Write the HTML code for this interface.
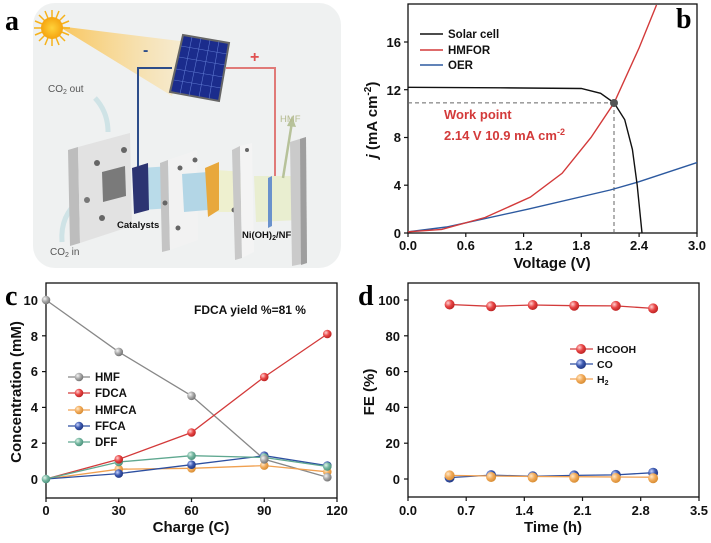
<!DOCTYPE html>
<html><head><meta charset="utf-8"><style>
html,body{margin:0;padding:0;background:#fff}
svg{display:block;font-family:"Liberation Sans",Arial,sans-serif}
.t{font-size:13px;font-weight:bold;fill:#111}
.ax{font-size:15px;font-weight:bold;fill:#111}
.lg{font-size:11.5px;font-weight:bold;fill:#111}
.L{font-family:"Liberation Serif",serif;font-size:28px;font-weight:bold;fill:#000}
</style></head><body>
<svg width="711" height="543" viewBox="0 0 711 543" xmlns="http://www.w3.org/2000/svg">
<defs>
<radialGradient id="gr" cx="35%" cy="35%" r="70%"><stop offset="0" stop-color="#ffd0d0"/><stop offset=".5" stop-color="#e84545"/><stop offset="1" stop-color="#b82020"/></radialGradient>
<radialGradient id="gg" cx="35%" cy="35%" r="70%"><stop offset="0" stop-color="#f4f4f4"/><stop offset=".5" stop-color="#a8a8a8"/><stop offset="1" stop-color="#707070"/></radialGradient>
<radialGradient id="go" cx="35%" cy="35%" r="70%"><stop offset="0" stop-color="#ffe8c8"/><stop offset=".5" stop-color="#f2ab5a"/><stop offset="1" stop-color="#d58a30"/></radialGradient>
<radialGradient id="gb" cx="35%" cy="35%" r="70%"><stop offset="0" stop-color="#c8d4ff"/><stop offset=".5" stop-color="#3d5ab0"/><stop offset="1" stop-color="#1e3580"/></radialGradient>
<radialGradient id="gt" cx="35%" cy="35%" r="70%"><stop offset="0" stop-color="#e0f4ea"/><stop offset=".5" stop-color="#74b6a0"/><stop offset="1" stop-color="#4a907a"/></radialGradient>
<radialGradient id="sun" cx="50%" cy="50%" r="50%"><stop offset="0" stop-color="#ffd23a"/><stop offset="1" stop-color="#f5a410"/></radialGradient>
<linearGradient id="beam" x1="0" y1="0" x2="1" y2="0"><stop offset="0" stop-color="#f9c04a" stop-opacity=".9"/><stop offset="1" stop-color="#fbe6b5" stop-opacity=".5"/></linearGradient>
</defs>

<!-- Panel a -->
<rect x="33" y="3" width="308" height="265" rx="22" fill="#eff1f1"/>
<text class="L" x="5" y="30">a</text>
<polygon points="58,26 188,42 172,96" fill="url(#beam)"/>
<g stroke="#f6b21a" stroke-width="1.5">
<line x1="52" y1="10" x2="52" y2="46"/><line x1="34" y1="28" x2="70" y2="28"/>
<line x1="39" y1="15" x2="65" y2="41"/><line x1="39" y1="41" x2="65" y2="15"/>
<line x1="45" y1="11" x2="59" y2="45"/><line x1="35" y1="21" x2="69" y2="35"/>
<line x1="59" y1="11" x2="45" y2="45"/><line x1="35" y1="35" x2="69" y2="21"/>
</g>
<circle cx="52" cy="28" r="11" fill="url(#sun)"/>
<polyline points="172,68 138,68 138,168" fill="none" stroke="#2d4d8a" stroke-width="2"/>
<polyline points="226,68 275,68 275,178" fill="none" stroke="#e07a78" stroke-width="2"/>
<text x="143" y="55" font-size="16" font-weight="bold" fill="#2d4d8a">-</text>
<text x="250" y="62" font-size="16" font-weight="bold" fill="#e05050">+</text>
<polygon points="183,35 229,43 219,101 170,92" fill="#1b2c8c" stroke="#666" stroke-width="2"/>
<g stroke="#5e78d0" stroke-width=".6">
<line x1="192" y1="37" x2="180" y2="94"/><line x1="201" y1="38" x2="189" y2="96"/><line x1="210" y1="40" x2="199" y2="97"/><line x1="219" y1="41" x2="209" y2="99"/>
<line x1="181" y1="46" x2="227" y2="54"/><line x1="179" y1="57" x2="225" y2="65"/><line x1="176" y1="69" x2="223" y2="77"/><line x1="174" y1="80" x2="221" y2="88"/>
</g>
<path d="M62,242 Q60,215 80,200" fill="none" stroke="#cfe3e6" stroke-width="5"/>
<path d="M108,132 Q108,112 95,98" fill="none" stroke="#cfe3e6" stroke-width="5"/>
<text x="48" y="92" font-size="10" fill="#555">CO<tspan font-size="7" dy="2">2</tspan><tspan dy="-2"> out</tspan></text>
<text x="50" y="255" font-size="10" fill="#555">CO<tspan font-size="7" dy="2">2</tspan><tspan dy="-2"> in</tspan></text>
<polygon points="68,150 78,147 80,243 70,246" fill="#bdbdbd"/>
<polygon points="78,147 130,133 132,226 80,243" fill="#e2e2e2"/>
<polygon points="102,172 125,166 126,196 103,202" fill="#7a7a7a"/>
<circle cx="97" cy="163" r="3" fill="#666"/><circle cx="124" cy="150" r="3" fill="#666"/><circle cx="102" cy="218" r="3" fill="#666"/><circle cx="87" cy="200" r="3" fill="#777"/>
<polygon points="140,168 172,166 172,208 142,210" fill="#b9dbe9"/>
<polygon points="132,168 148,163 149,210 134,214" fill="#2c3472"/>
<polygon points="160,163 168,160 170,250 162,252" fill="#c4c4c4"/>
<polygon points="168,160 197,150 198,240 170,250" fill="#f2f2f2"/>
<circle cx="180" cy="168" r="2.5" fill="#666"/><circle cx="195" cy="160" r="2.5" fill="#666"/><circle cx="178" cy="228" r="2.5" fill="#666"/><circle cx="165" cy="203" r="2.5" fill="#666"/>
<polygon points="182,174 208,172 208,210 184,212" fill="#b3d6e6"/>
<polygon points="216,170 246,172 246,212 216,212" fill="#eef0cf"/>
<polygon points="205,168 219,162 219,210 208,217" fill="#e8a83c"/>
<circle cx="234" cy="210" r="2.5" fill="#666"/>
<polygon points="232,150 240,146 242,258 235,260" fill="#c8c8c8"/>
<polygon points="240,146 252,143 254,252 242,258" fill="#f4f4f4"/>
<circle cx="247" cy="150" r="2" fill="#666"/>
<polygon points="254,176 298,176 300,220 256,222" fill="#e9eed0"/>
<polygon points="268,178 272,176 272,226 268,228" fill="#6a92cc"/>
<line x1="283" y1="178" x2="292" y2="122" stroke="#b7c29a" stroke-width="2.5"/>
<polygon points="292,116 287,126 296,127" fill="#b7c29a"/>
<text x="280" y="122" font-size="9.5" fill="#b4ba8f">HMF</text>
<polygon points="290,142 306,137 307,263 292,266" fill="#cacaca"/>
<polygon points="300,139 306,137 307,263 301,265" fill="#9e9e9e"/>
<text x="117" y="228" font-size="9.5" font-weight="bold" fill="#111">Catalysts</text>
<text x="242" y="238" font-size="9.5" font-weight="bold" fill="#111">Ni(OH)<tspan font-size="7" dy="2">2</tspan><tspan dy="-2">/NF</tspan></text>

<!-- Panel b -->
<text class="L" x="676" y="28">b</text>
<g fill="none" stroke="#111" stroke-width="1.3">
<rect x="408" y="4" width="289" height="229"/>
</g>
<g stroke="#111" stroke-width="1.2">
<line x1="408" y1="233" x2="408" y2="237"/><line x1="465.8" y1="233" x2="465.8" y2="237"/><line x1="523.6" y1="233" x2="523.6" y2="237"/><line x1="581.3" y1="233" x2="581.3" y2="237"/><line x1="639.1" y1="233" x2="639.1" y2="237"/><line x1="697" y1="233" x2="697" y2="237"/>
<line x1="404" y1="233" x2="408" y2="233"/><line x1="404" y1="185.2" x2="408" y2="185.2"/><line x1="404" y1="137.5" x2="408" y2="137.5"/><line x1="404" y1="89.7" x2="408" y2="89.7"/><line x1="404" y1="42" x2="408" y2="42"/>
</g>
<g class="t" text-anchor="middle">
<text x="408" y="250">0.0</text><text x="465.8" y="250">0.6</text><text x="523.6" y="250">1.2</text><text x="581.3" y="250">1.8</text><text x="639.1" y="250">2.4</text><text x="697" y="250">3.0</text>
</g>
<g class="t" text-anchor="end">
<text x="401" y="238">0</text><text x="401" y="190">4</text><text x="401" y="142">8</text><text x="401" y="95">12</text><text x="401" y="47">16</text>
</g>
<text class="ax" x="552" y="268" text-anchor="middle">Voltage (V)</text>
<text class="ax" transform="translate(377,120) rotate(-90)" text-anchor="middle"><tspan font-style="italic">j</tspan> (mA cm<tspan font-size="10" dy="-6">-2</tspan><tspan dy="6">)</tspan></text>
<g stroke="#666" stroke-width="1" stroke-dasharray="4,3" fill="none">
<line x1="408" y1="102.9" x2="614" y2="102.9"/><line x1="614" y1="103" x2="614" y2="233"/>
</g>
<polyline fill="none" stroke="#2d5aa0" stroke-width="1.4" points="408,231.8 446.5,227 528.4,209.1 610.2,190 639.1,181.7 697,162.6"/>
<polyline fill="none" stroke="#d33a3a" stroke-width="1.4" points="408,231.8 441.7,229.4 485,217.5 530.3,197.2 562.1,173.3 591,137.5 614.1,102.9 639.1,47.9 656.5,5"/>
<polyline fill="none" stroke="#111" stroke-width="1.4" points="408,87.3 500,87.8 581.3,88.5 600.6,93.3 614.1,102.9 624.7,119.6 632.4,149.4 637.2,185.2 642,233"/>
<circle cx="614" cy="103" r="4" fill="#555"/>
<text x="444" y="119" font-size="13" font-weight="bold" fill="#d33a3a">Work point</text>
<text x="444" y="140" font-size="13" font-weight="bold" fill="#d33a3a">2.14 V 10.9 mA cm<tspan font-size="9" dy="-5">-2</tspan></text>
<g stroke-width="1.6"><line x1="420" y1="34" x2="443" y2="34" stroke="#111"/><line x1="420" y1="50" x2="443" y2="50" stroke="#d33a3a"/><line x1="420" y1="65" x2="443" y2="65" stroke="#2d5aa0"/></g>
<g class="lg"><text x="448" y="38">Solar cell</text><text x="448" y="54">HMFOR</text><text x="448" y="69">OER</text></g>

<!-- Panel c -->
<text class="L" x="5" y="305">c</text>
<rect x="46" y="283" width="291" height="215" fill="none" stroke="#111" stroke-width="1.3"/>
<g stroke="#111" stroke-width="1.2">
<line x1="46" y1="498" x2="46" y2="502"/><line x1="118.75" y1="498" x2="118.75" y2="502"/><line x1="191.5" y1="498" x2="191.5" y2="502"/><line x1="264.25" y1="498" x2="264.25" y2="502"/><line x1="337" y1="498" x2="337" y2="502"/>
<line x1="42" y1="479" x2="46" y2="479"/><line x1="42" y1="443.2" x2="46" y2="443.2"/><line x1="42" y1="407.4" x2="46" y2="407.4"/><line x1="42" y1="371.6" x2="46" y2="371.6"/><line x1="42" y1="335.8" x2="46" y2="335.8"/><line x1="42" y1="300" x2="46" y2="300"/>
</g>
<g class="t" text-anchor="middle"><text x="46" y="515">0</text><text x="118.75" y="515">30</text><text x="191.5" y="515">60</text><text x="264.25" y="515">90</text><text x="337" y="515">120</text></g>
<g class="t" text-anchor="end"><text x="38" y="484">0</text><text x="38" y="448">2</text><text x="38" y="412">4</text><text x="38" y="376">6</text><text x="38" y="341">8</text><text x="38" y="305">10</text></g>
<text class="ax" x="191" y="532" text-anchor="middle" font-size="16">Charge (C)</text>
<text class="ax" transform="translate(21,392) rotate(-90)" text-anchor="middle" font-size="16">Concentration (mM)</text>
<text x="194" y="314" font-size="12" font-weight="bold" fill="#111">FDCA yield %=81 %</text>
<g fill="none" stroke-width="1.3">
<polyline stroke="#888" points="46,300 118.75,351.9 191.5,395.8 264.25,459.3 327.3,477.2"/>
<polyline stroke="#d33a3a" points="46,479 118.75,459.3 191.5,432.5 264.25,377 327.3,334"/>
<polyline stroke="#f0a050" points="46,479 118.75,469.2 191.5,468.3 264.25,465.6 327.3,471.8"/>
<polyline stroke="#2d4fa0" points="46,479 118.75,473.6 191.5,464.7 264.25,455.7 327.3,465.6"/>
<polyline stroke="#5fa890" points="46,479 118.75,462 191.5,455.7 264.25,457.5 327.3,466.5"/>
</g>
<g>
<circle cx="118.75" cy="469.2" r="4.3" fill="url(#go)"/><circle cx="191.5" cy="468.3" r="4.3" fill="url(#go)"/><circle cx="264.25" cy="465.6" r="4.3" fill="url(#go)"/><circle cx="327.3" cy="471.8" r="4.3" fill="url(#go)"/>
<circle cx="118.75" cy="473.6" r="4.3" fill="url(#gb)"/><circle cx="191.5" cy="464.7" r="4.3" fill="url(#gb)"/><circle cx="264.25" cy="455.7" r="4.3" fill="url(#gb)"/><circle cx="327.3" cy="465.6" r="4.3" fill="url(#gb)"/>
<circle cx="118.75" cy="462" r="4.3" fill="url(#gt)"/><circle cx="191.5" cy="455.7" r="4.3" fill="url(#gt)"/><circle cx="264.25" cy="457.5" r="4.3" fill="url(#gt)"/><circle cx="327.3" cy="466.5" r="4.3" fill="url(#gt)"/>
<circle cx="118.75" cy="459.3" r="4.3" fill="url(#gr)"/><circle cx="191.5" cy="432.5" r="4.3" fill="url(#gr)"/><circle cx="264.25" cy="377" r="4.3" fill="url(#gr)"/><circle cx="327.3" cy="334" r="4.3" fill="url(#gr)"/>
<circle cx="46" cy="479" r="4.3" fill="url(#gt)"/>
<circle cx="46" cy="300" r="4.3" fill="url(#gg)"/><circle cx="118.75" cy="351.9" r="4.3" fill="url(#gg)"/><circle cx="191.5" cy="395.8" r="4.3" fill="url(#gg)"/><circle cx="264.25" cy="459.3" r="4.3" fill="url(#gg)"/><circle cx="327.3" cy="477.2" r="4.3" fill="url(#gg)"/>
</g>
<g stroke-width="1.3">
<line x1="68" y1="377" x2="90" y2="377" stroke="#888"/><line x1="68" y1="393" x2="90" y2="393" stroke="#d33a3a"/><line x1="68" y1="410" x2="90" y2="410" stroke="#f0a050"/><line x1="68" y1="426" x2="90" y2="426" stroke="#2d4fa0"/><line x1="68" y1="442" x2="90" y2="442" stroke="#5fa890"/>
</g>
<circle cx="79" cy="377" r="4.3" fill="url(#gg)"/><circle cx="79" cy="393" r="4.3" fill="url(#gr)"/><circle cx="79" cy="410" r="4.3" fill="url(#go)"/><circle cx="79" cy="426" r="4.3" fill="url(#gb)"/><circle cx="79" cy="442" r="4.3" fill="url(#gt)"/>
<g class="lg"><text x="95" y="381">HMF</text><text x="95" y="397">FDCA</text><text x="95" y="414">HMFCA</text><text x="95" y="430">FFCA</text><text x="95" y="446">DFF</text></g>

<!-- Panel d -->
<text class="L" x="358" y="305">d</text>
<rect x="408" y="283" width="291" height="214" fill="none" stroke="#111" stroke-width="1.3"/>
<g stroke="#111" stroke-width="1.2">
<line x1="408" y1="497" x2="408" y2="501"/><line x1="466.2" y1="497" x2="466.2" y2="501"/><line x1="524.3" y1="497" x2="524.3" y2="501"/><line x1="582.5" y1="497" x2="582.5" y2="501"/><line x1="640.7" y1="497" x2="640.7" y2="501"/><line x1="699" y1="497" x2="699" y2="501"/>
<line x1="404" y1="479" x2="408" y2="479"/><line x1="404" y1="443.2" x2="408" y2="443.2"/><line x1="404" y1="407.4" x2="408" y2="407.4"/><line x1="404" y1="371.6" x2="408" y2="371.6"/><line x1="404" y1="335.8" x2="408" y2="335.8"/><line x1="404" y1="300" x2="408" y2="300"/>
</g>
<g class="t" text-anchor="middle"><text x="408" y="515">0.0</text><text x="466.2" y="515">0.7</text><text x="524.3" y="515">1.4</text><text x="582.5" y="515">2.1</text><text x="640.7" y="515">2.8</text><text x="699" y="515">3.5</text></g>
<g class="t" text-anchor="end"><text x="400" y="484">0</text><text x="400" y="448">20</text><text x="400" y="412">40</text><text x="400" y="376">60</text><text x="400" y="341">80</text><text x="400" y="305">100</text></g>
<text class="ax" x="553" y="532" text-anchor="middle" font-size="16">Time (h)</text>
<text class="ax" transform="translate(374,392) rotate(-90)" text-anchor="middle" font-size="16">FE (%)</text>
<g fill="none" stroke-width="1.3">
<polyline stroke="#d33a3a" points="449.6,304.5 491.1,306.3 532.7,305 574.2,305.7 615.8,305.9 653.1,308.4"/>
<polyline stroke="#2d4fa0" points="449.6,477.6 491.1,475.1 532.7,476.3 574.2,475.4 615.8,474.9 653.1,472.7"/>
<polyline stroke="#f0a050" points="449.6,475.4 491.1,476 532.7,476.5 574.2,476.7 615.8,477 653.1,477.2"/>
</g>
<g>
<circle cx="449.6" cy="304.5" r="5" fill="url(#gr)"/><circle cx="491.1" cy="306.3" r="5" fill="url(#gr)"/><circle cx="532.7" cy="305" r="5" fill="url(#gr)"/><circle cx="574.2" cy="305.7" r="5" fill="url(#gr)"/><circle cx="615.8" cy="305.9" r="5" fill="url(#gr)"/><circle cx="653.1" cy="308.4" r="5" fill="url(#gr)"/>
<circle cx="449.6" cy="477.6" r="5" fill="url(#gb)"/><circle cx="491.1" cy="475.1" r="5" fill="url(#gb)"/><circle cx="532.7" cy="476.3" r="5" fill="url(#gb)"/><circle cx="574.2" cy="475.4" r="5" fill="url(#gb)"/><circle cx="615.8" cy="474.9" r="5" fill="url(#gb)"/><circle cx="653.1" cy="472.7" r="5" fill="url(#gb)"/>
<circle cx="449.6" cy="475.4" r="5" fill="url(#go)"/><circle cx="491.1" cy="477" r="5" fill="url(#go)"/><circle cx="532.7" cy="477.5" r="5" fill="url(#go)"/><circle cx="574.2" cy="477.7" r="5" fill="url(#go)"/><circle cx="615.8" cy="478" r="5" fill="url(#go)"/><circle cx="653.1" cy="478.2" r="5" fill="url(#go)"/>
</g>
<g stroke-width="1.3"><line x1="570" y1="349" x2="593" y2="349" stroke="#d33a3a"/><line x1="570" y1="364" x2="593" y2="364" stroke="#2d4fa0"/><line x1="570" y1="379" x2="593" y2="379" stroke="#f0a050"/></g>
<circle cx="581" cy="349" r="5" fill="url(#gr)"/><circle cx="581" cy="364" r="5" fill="url(#gb)"/><circle cx="581" cy="379" r="5" fill="url(#go)"/>
<g font-size="10.5" font-weight="bold" fill="#111"><text x="597" y="353">HCOOH</text><text x="597" y="368">CO</text><text x="597" y="383">H<tspan font-size="7" dy="2">2</tspan></text></g>
</svg>
</body></html>
